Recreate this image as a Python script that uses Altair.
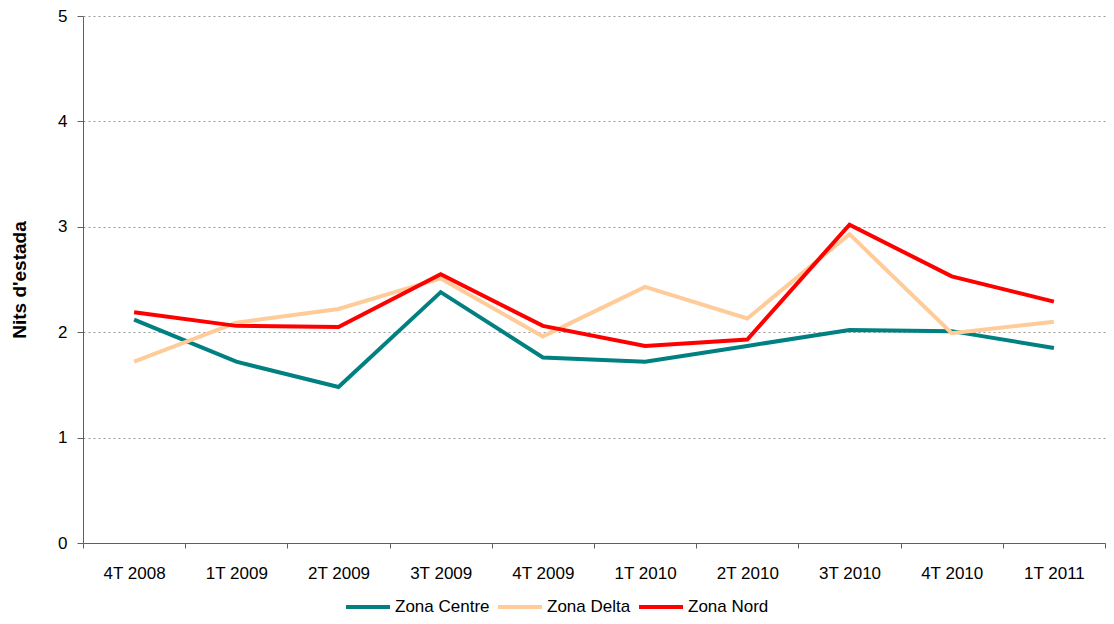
import altair as alt
import pandas as pd

# Quarters and average length of stay per zone
quarters = ['4T 2008', '1T 2009', '2T 2009', '3T 2009', '4T 2009',
            '1T 2010', '2T 2010', '3T 2010', '4T 2010', '1T 2011']
zona_centre = [2.12, 1.72, 1.48, 2.38, 1.76, 1.72, 1.87, 2.02, 2.01, 1.85]
zona_delta = [1.72, 2.09, 2.22, 2.51, 1.96, 2.43, 2.13, 2.93, 1.99, 2.10]
zona_nord = [2.19, 2.06, 2.05, 2.55, 2.06, 1.87, 1.93, 3.02, 2.53, 2.29]

series = {'Zona Centre': zona_centre, 'Zona Delta': zona_delta, 'Zona Nord': zona_nord}
zone_colors = {'Zona Centre': '#008080', 'Zona Delta': '#FFCC99', 'Zona Nord': '#FF0000'}

rows = []
for zone, values in series.items():
    for q, v in zip(quarters, values):
        rows.append({'trimestre': q, 'zona': zone, 'nits': v})
df = pd.DataFrame(rows)

FONT = 'Liberation Sans Narrow, Arial Narrow, Liberation Sans, sans-serif'

chart = alt.Chart(df).mark_line(strokeWidth=4).encode(
    x=alt.X('trimestre:N', sort=quarters, title=None,
            scale=alt.Scale(paddingInner=0, paddingOuter=0),
            axis=alt.Axis(labelAngle=0, tickBand='extent', tickSize=5,
                          labelPadding=17, grid=False)),
    y=alt.Y('nits:Q', title="Nits d'estada",
            scale=alt.Scale(domain=[0, 5], nice=False),
            axis=alt.Axis(values=[0, 1, 2, 3, 4, 5], tickSize=6, labelPadding=10,
                          grid=True, gridDash=[2, 3], gridColor='#9a9a9a',
                          titlePadding=28)),
    color=alt.Color('zona:N',
                    scale=alt.Scale(domain=list(zone_colors.keys()),
                                    range=list(zone_colors.values())),
                    legend=alt.Legend(title=None, orient='none', direction='horizontal',
                                      legendX=283, legendY=578,
                                      symbolType='M-3,0H1', symbolSize=484,
                                      symbolStrokeWidth=4, symbolFillColor='transparent',
                                      columnPadding=0, labelOffset=3))
).properties(
    width=1022,
    height=527,
    autosize=alt.AutoSizeParams(type='none'),
    padding={'left': 75, 'top': 8, 'right': 1, 'bottom': 73}
).configure_view(
    stroke=None
).configure_axis(
    labelFont=FONT,
    labelFontSize=17,
    labelColor='#000000',
    titleFont=FONT,
    titleFontSize=19,
    titleFontWeight='bold',
    titleColor='#000000',
    domainColor='#606060',
    tickColor='#606060'
).configure_legend(
    labelFont=FONT,
    labelFontSize=17,
    labelColor='#000000'
)

chart.save('out.html', embed_options={'renderer': 'svg', 'actions': False})
